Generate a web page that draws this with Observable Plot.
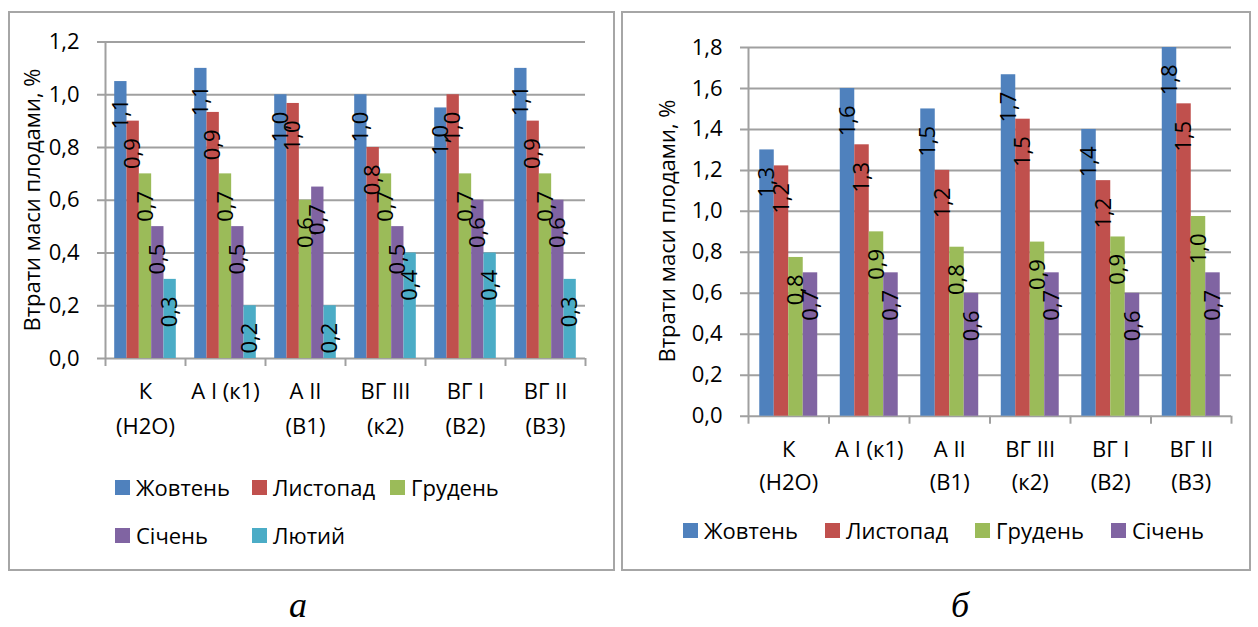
<!DOCTYPE html>
<html lang="uk">
<head>
<meta charset="utf-8">
<script src="https://cdn.jsdelivr.net/npm/d3@7"></script>
<script src="https://cdn.jsdelivr.net/npm/@observablehq/plot@0.6"></script>
<style>
  body { margin: 0; background: #fff; width: 1258px; height: 627px; position: relative; overflow: hidden;
         font-family: "Open Sans", sans-serif; color: #000; }
  .box { position: absolute; border: 2px solid #a6a6a6; box-sizing: border-box; }
  .chart { position: absolute; }
  .ytitle { position: absolute; font-size: 22px; white-space: nowrap; transform: translate(-50%, -50%) rotate(-90deg); }
  .legend { position: absolute; font-size: 22px; }
  .legend .item { display: flex; align-items: center; white-space: nowrap; }
  .legend .sw { width: 15px; height: 15px; margin-right: 6px; flex: none; }
  .legA { display: grid; grid-template-columns: 137px 138px 138px; grid-auto-rows: 48px; }
  .legB { display: flex; gap: 27px; height: 40px; }
  .cap { position: absolute; font-family: "Liberation Serif", serif; font-style: italic; font-size: 36px;
         line-height: 40px; height: 40px; transform: translateX(-50%); }
</style>
</head>
<body>
<div class="box" style="left:8px; top:11px; width:607px; height:560px;"></div>
<div class="box" style="left:621px; top:11px; width:630px; height:560px;"></div>
<div id="chartA" class="chart" style="left:10px; top:12px;"></div>
<div id="chartB" class="chart" style="left:622px; top:12px;"></div>
<div class="ytitle" style="left:31px; top:200px;">Втрати маси плодами, %</div>
<div class="ytitle" style="left:666px; top:231px;">Втрати маси плодами, %</div>
<div id="legA" class="legend legA" style="left:115px; top:463px;"></div>
<div id="legB" class="legend legB" style="left:683px; top:510px;"></div>
<div class="cap" style="left:298px; top:585px;">а</div>
<div class="cap" style="left:960px; top:585px;">б</div>
<script>
// Варіанти досліду (підписи категорій з переносом рядка)
const categories = ["К\n(Н2О)", "А I (к1)", "А II\n(В1)", "ВГ III\n(к2)", "ВГ I\n(В2)", "ВГ II\n(В3)"];
const monthsA = ["Жовтень", "Листопад", "Грудень", "Січень", "Лютий"];
const monthsB = ["Жовтень", "Листопад", "Грудень", "Січень"];
const palette = ["#4F81BD", "#C0504D", "#9BBB59", "#8064A2", "#4BACC6"];

// а: втрати маси плодами, %
const octA = [1.05, 1.10, 1.00, 1.00, 0.95, 1.10];
const novA = [0.90, 0.933, 0.967, 0.80, 1.00, 0.90];
const decA = [0.70, 0.70, 0.60, 0.70, 0.70, 0.70];
const janA = [0.50, 0.50, 0.65, 0.50, 0.60, 0.60];
const febA = [0.30, 0.20, 0.20, 0.40, 0.40, 0.30];

// б: втрати маси плодами, %
const octB = [1.30, 1.60, 1.50, 1.667, 1.40, 1.80];
const novB = [1.222, 1.325, 1.20, 1.45, 1.15, 1.525];
const decB = [0.775, 0.90, 0.825, 0.85, 0.875, 0.975];
const janB = [0.70, 0.70, 0.60, 0.70, 0.60, 0.70];

const gray = "#a0a0a0";
const fmt = v => (Math.round(v * 10 + 1e-9) / 10).toFixed(1).replace(".", ",");

function toRows(series, names) {
  return names.flatMap((name, s) => series[s].map((value, cat) => ({cat, s, name, value})));
}

function barChart({rows, months, yMax, yTicks, barW, width, height, margins, catDy, lineHeight}) {
  const off = (1 - months.length * barW) / 2;
  const left = d => d.cat + off + d.s * barW;
  const grid = d3.range(0, yTicks + 1).map(i => +(i * yMax / yTicks).toFixed(2));
  return Plot.plot({
    width, height,
    marginLeft: margins[0], marginRight: margins[1], marginTop: margins[2], marginBottom: margins[3],
    style: {fontFamily: "Open Sans", fontSize: "22px", color: "#000", background: "transparent", overflow: "visible"},
    x: {domain: [0, categories.length], axis: null},
    y: {domain: [0, yMax], ticks: yTicks, tickSize: 0, tickPadding: 26, tickFormat: fmt, label: null},
    color: {domain: months, range: palette.slice(0, months.length)},
    marks: [
      Plot.ruleY(grid, {stroke: gray, strokeWidth: 2, insetLeft: -8}),
      Plot.ruleX(d3.range(categories.length + 1), {x: d => d, y1: 0, y2: 0, insetBottom: -8, stroke: gray, strokeWidth: 2}),
      Plot.ruleX([0], {stroke: gray, strokeWidth: 2}),
      Plot.rect(rows, {x1: left, x2: d => left(d) + barW, y1: 0, y2: "value", fill: "name"}),
      Plot.text(rows, {x: d => left(d) + barW / 2, y: "value", text: d => fmt(d.value),
                       rotate: -90, textAnchor: "end", dy: 17, fontSize: 22, fill: "#000"}),
      Plot.text(categories, {x: (d, i) => i + 0.5, frameAnchor: "bottom", text: d => d,
                             lineAnchor: "top", dy: catDy, lineHeight, fontSize: 22, fill: "#000"})
    ]
  });
}

document.getElementById("chartA").append(barChart({
  rows: toRows([octA, novA, decA, janA, febA], monthsA), months: monthsA,
  yMax: 1.2, yTicks: 6, barW: 0.154,
  width: 604, height: 440, margins: [95, 29, 29.5, 94], catDy: 16, lineHeight: 1.59
}));

document.getElementById("chartB").append(barChart({
  rows: toRows([octB, novB, decB, janB], monthsB), months: monthsB,
  yMax: 1.8, yTicks: 9, barW: 0.18,
  width: 628, height: 470, margins: [126, 19, 35, 66.3], catDy: 17, lineHeight: 1.5
}));

function legend(id, months) {
  const el = document.getElementById(id);
  months.forEach((m, i) => {
    const item = document.createElement("div");
    item.className = "item";
    const sw = document.createElement("span");
    sw.className = "sw";
    sw.style.background = palette[i];
    item.append(sw, document.createTextNode(m));
    el.append(item);
  });
}
legend("legA", monthsA);
legend("legB", monthsB);
</script>
</body>
</html>
